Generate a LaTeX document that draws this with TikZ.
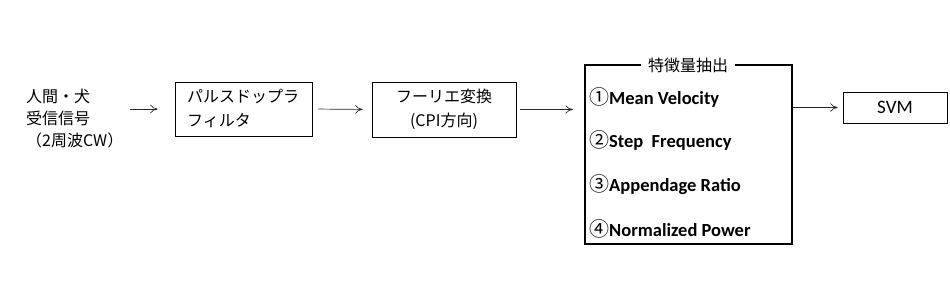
\documentclass[tikz,border=0pt]{standalone}
\usepackage{fontspec}
\setmainfont{Noto Sans CJK JP}
\newfontfamily\itemfont{Carlito}
\usetikzlibrary{arrows.meta,positioning}
\tikzset{
  ar/.style={-{To[length=2.6mm,width=3mm]},line width=0.7pt,black!85},
  blk/.style={draw,line width=0.8pt,inner sep=0pt},
  jp/.style={font=\fontsize{16}{24}\selectfont},
  feature/.style={anchor=west,inner sep=0pt,font=\fontsize{18.5}{20}\selectfont\bfseries}
}
\newcommand{\circnum}[1]{{\mdseries\fontsize{20}{20}\selectfont#1}}

\begin{document}
\begin{tikzpicture}[x=1pt,y=-1pt]
\useasboundingbox (0,0) rectangle (950,281);
% input signal
\node[jp,align=left,anchor=west,inner sep=0pt,font=\fontsize{16}{22}\selectfont] (input) at (26,119)
  {人間・犬\\受信信号\\（2周波CW）};
% processing chain
\node[blk,minimum width=137pt,minimum height=54pt] (pdf) at (243.5,109) {};
\node[jp,align=left,anchor=west,inner sep=0pt] at (187,108) {パルスドップラ\\フィルタ};
\node[blk,jp,align=center,minimum width=144pt,minimum height=55pt] (fft) at (444,109.5)
  {フーリエ変換\\(CPI方向)};
% feature extraction
\node[draw,line width=2.4pt,minimum width=207pt,minimum height=179pt] (feat) at (688.5,154.5) {};
\node[jp,fill=white,inner sep=7pt] (title) at (688,65) {特徴量抽出};
\node[feature] (f1) at (589,97) {\circnum{①}\itemfont Mean Velocity};
\node[feature] (f2) at (589,140) {\circnum{②}\itemfont Step\ \ Frequency};
\node[feature] (f3) at (589,185) {\circnum{③}\itemfont Appendage Ratio};
\node[feature] (f4) at (589,229) {\circnum{④}\itemfont Normalized Power};
% classifier
\node[blk,minimum width=104pt,minimum height=31pt,font=\fontsize{19}{20}\selectfont] (svm) at (895,107.5) {\itemfont SVM};
% arrows
\draw[ar,shorten <=7pt,shorten >=17pt] (input.east |- pdf.west) -- (pdf.west);
\draw[ar,shorten <=6pt,shorten >=9pt] (pdf.east) -- (fft.west);
\draw[ar,shorten <=4pt,shorten >=11pt] (fft.east) -- (fft.east -| feat.west);
\draw[ar,shorten >=5pt] (svm.west -| feat.east) -- (svm.west);
\end{tikzpicture}
\end{document}
